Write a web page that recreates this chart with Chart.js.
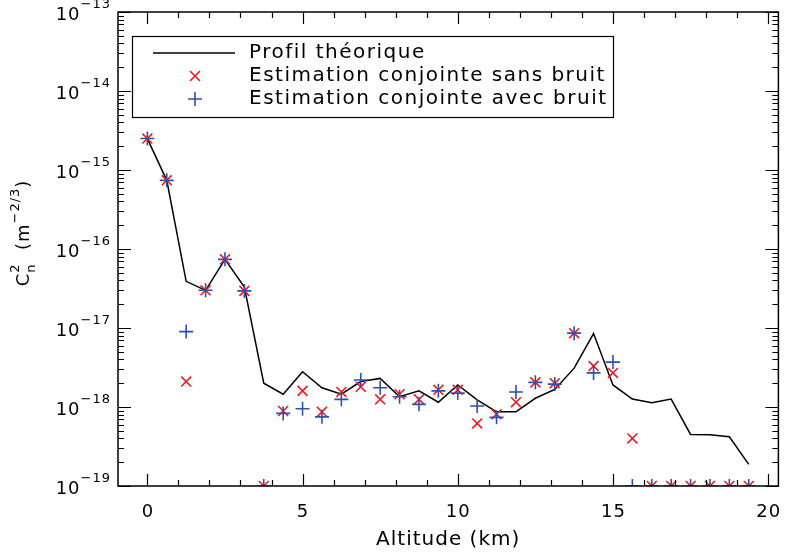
<!DOCTYPE html>
<html lang="fr">
<head>
    <meta charset="UTF-8">
    <title>Profil Cn2</title>
    <script src="https://cdn.jsdelivr.net/npm/chart.js"></script>
    <style>
        body { margin: 0; background: #fff; }
        #wrap { width: 787px; height: 555px; }
    </style>
</head>
<body>
    <div id="wrap"><canvas id="cn2Chart" width="787" height="555"></canvas></div>

    <script>
        // altitudes (km)
        const altitude = [0, 0.625, 1.25, 1.875, 2.5, 3.125, 3.75, 4.375, 5, 5.625, 6.25, 6.875,
            7.5, 8.125, 8.75, 9.375, 10, 10.625, 11.25, 11.875, 12.5, 13.125, 13.75, 14.375,
            15, 15.625, 16.25, 16.875, 17.5, 18.125, 18.75, 19.375];

        // Cn2 values (m^-2/3)
        const profilTheorique = [2.5e-15, 7.4e-16, 3.9e-17, 3.0e-17, 7.4e-17, 3.3e-17, 2.0e-18, 1.45e-18,
            2.8e-18, 1.75e-18, 1.45e-18, 2.1e-18, 2.3e-18, 1.35e-18, 1.6e-18, 1.15e-18,
            1.9e-18, 1.23e-18, 8.7e-19, 8.7e-19, 1.29e-18, 1.67e-18, 3.1e-18, 8.5e-18,
            1.9e-18, 1.26e-18, 1.13e-18, 1.26e-18, 4.5e-19, 4.45e-19, 4.2e-19, 1.88e-19];

        const sansBruit = [2.5e-15, 7.4e-16, 2.1e-18, 3.0e-17, 7.4e-17, 2.95e-17, 1e-19, 8.9e-19,
            1.6e-18, 8.7e-19, 1.55e-18, 1.8e-18, 1.25e-18, 1.45e-18, 1.25e-18, 1.65e-18,
            1.65e-18, 6.2e-19, 8.1e-19, 1.15e-18, 2.05e-18, 2.0e-18, 8.6e-18, 3.3e-18,
            2.7e-18, 4.0e-19, 1e-19, 1e-19, 1e-19, 1e-19, 1e-19, 1e-19];

        const avecBruit = [2.5e-15, 7.4e-16, 9.0e-18, 3.0e-17, 7.4e-17, 2.95e-17, 1e-19, 8.3e-19,
            9.5e-19, 7.5e-19, 1.25e-18, 2.2e-18, 1.75e-18, 1.35e-18, 1.08e-18, 1.6e-18,
            1.5e-18, 1.03e-18, 7.4e-19, 1.55e-18, 2.05e-18, 1.95e-18, 8.6e-18, 2.7e-18,
            3.7e-18, 1e-19, 1e-19, 1e-19, 1e-19, 1e-19, 1e-19, 1e-19];

        const xTickValues = [0, 5, 10, 15, 20];
        const yDecades = [-19, -18, -17, -16, -15, -14, -13];

        const FONT = 'DejaVu Sans';
        const RED = 'rgb(245,25,30)';
        const BLUE = 'rgb(45,80,170)';

        function toPoints(values) {
            return altitude.map((a, i) => ({ x: a, y: values[i] }));
        }

        // wider letter spacing, closer to the IDL vector font
        const spacingPlugin = {
            id: 'spacing',
            beforeDraw(chart) { chart.ctx.letterSpacing = '1px'; }
        };

        // frame, inward ticks on all four sides (IDL style) and tick labels
        const framePlugin = {
            id: 'frame',
            afterDraw(chart) {
                const ctx = chart.ctx;
                const a = chart.chartArea;
                const xs = chart.scales.x, ys = chart.scales.y;
                ctx.save();
                ctx.strokeStyle = '#000';
                ctx.lineWidth = 1.5;
                ctx.strokeRect(a.left, a.top, a.right - a.left, a.bottom - a.top);
                ctx.lineWidth = 1.2;
                ctx.beginPath();
                for (let v = Math.ceil(xs.min); v <= xs.max; v++) {
                    const px = Math.round(xs.getPixelForValue(v)) + 0.5;
                    const len = v % 5 === 0 ? 12 : 6;
                    ctx.moveTo(px, a.bottom); ctx.lineTo(px, a.bottom - len);
                    ctx.moveTo(px, a.top); ctx.lineTo(px, a.top + len);
                }
                yDecades.forEach(e => {
                    for (let m = 1; m <= 9; m++) {
                        const val = m * Math.pow(10, e);
                        if (val < ys.min * 0.999 || val > ys.max * 1.001) continue;
                        const py = Math.round(ys.getPixelForValue(val)) + 0.5;
                        const len = m === 1 ? 13 : 6;
                        ctx.moveTo(a.left, py); ctx.lineTo(a.left + len, py);
                        ctx.moveTo(a.right, py); ctx.lineTo(a.right - len, py);
                    }
                });
                ctx.stroke();

                ctx.fillStyle = '#000';
                ctx.letterSpacing = '1px';

                // x tick labels
                ctx.font = '18px ' + FONT;
                ctx.textAlign = 'center';
                ctx.textBaseline = 'middle';
                xTickValues.forEach(v => {
                    ctx.fillText(String(v), xs.getPixelForValue(v) + 0.5, a.bottom + 26);
                });

                // y tick labels 10^e
                yDecades.forEach(e => {
                    const py = ys.getPixelForValue(Math.pow(10, e));
                    const sup = '\u2212' + Math.abs(e);
                    ctx.font = '13px ' + FONT;
                    const wSup = ctx.measureText(sup).width;
                    const right = a.left - 7;
                    ctx.textAlign = 'left';
                    ctx.fillText(sup, right - wSup, py - 7);
                    ctx.font = '18px ' + FONT;
                    ctx.textAlign = 'right';
                    ctx.fillText('10', right - wSup, py + 3);
                });

                // y axis title: C_n^2 (m^-2/3)
                ctx.translate(22, 233);
                ctx.rotate(-Math.PI / 2);
                const parts = [
                    { t: 'C', f: 18, dy: 0 },
                    { t: '2', f: 13, dy: -8, stack: 'n' },
                    { t: '  (m', f: 18, dy: 0 },
                    { t: '\u22122/3', f: 13, dy: -8 },
                    { t: ')', f: 18, dy: 0 }
                ];
                let total = 0;
                parts.forEach(p => { ctx.font = p.f + 'px ' + FONT; p.w = ctx.measureText(p.t).width; total += p.w; });
                let cx = -total / 2;
                ctx.textAlign = 'left';
                parts.forEach(p => {
                    ctx.font = p.f + 'px ' + FONT;
                    ctx.fillText(p.t, cx, p.dy + 2);
                    if (p.stack) ctx.fillText(p.stack, cx, 10);
                    cx += p.w;
                });
                ctx.restore();
            }
        };

        // boxed legend in the upper left of the plot
        const legendPlugin = {
            id: 'boxLegend',
            afterDraw(chart) {
                const ctx = chart.ctx;
                const a = chart.chartArea;
                const bx = a.left + 14, by = a.top + 24, bw = 481, bh = 81;
                ctx.save();
                ctx.fillStyle = '#fff';
                ctx.fillRect(bx, by, bw, bh);
                ctx.strokeStyle = '#000';
                ctx.lineWidth = 1.2;
                ctx.strokeRect(bx + 0.5, by + 0.5, bw, bh);
                chart.data.datasets.forEach((ds, i) => {
                    const cy = by + 17 + i * 23;
                    ctx.strokeStyle = ds.borderColor;
                    ctx.lineWidth = ds.showLine ? 1.5 : 1.6;
                    ctx.beginPath();
                    if (ds.showLine) {
                        ctx.moveTo(bx + 21, cy); ctx.lineTo(bx + 103, cy);
                    } else if (ds.pointStyle === 'crossRot') {
                        const r = 5;
                        ctx.moveTo(bx + 63 - r, cy - r); ctx.lineTo(bx + 63 + r, cy + r);
                        ctx.moveTo(bx + 63 - r, cy + r); ctx.lineTo(bx + 63 + r, cy - r);
                    } else {
                        const r = 7;
                        ctx.moveTo(bx + 63 - r, cy); ctx.lineTo(bx + 63 + r, cy);
                        ctx.moveTo(bx + 63, cy - r); ctx.lineTo(bx + 63, cy + r);
                    }
                    ctx.stroke();
                    ctx.fillStyle = '#000';
                    ctx.font = '20px ' + FONT;
                    ctx.letterSpacing = '1.5px';
                    ctx.textAlign = 'left';
                    ctx.textBaseline = 'middle';
                    ctx.fillText(ds.label, bx + 117, cy);
                });
                ctx.restore();
            }
        };

        new Chart(document.getElementById('cn2Chart'), {
            type: 'scatter',
            data: {
                datasets: [{
                    label: 'Profil théorique',
                    data: toPoints(profilTheorique),
                    showLine: true,
                    borderColor: '#000',
                    borderWidth: 1.5,
                    pointRadius: 0,
                    tension: 0,
                    order: 3
                }, {
                    label: 'Estimation conjointe sans bruit',
                    data: toPoints(sansBruit),
                    showLine: false,
                    pointStyle: 'crossRot',
                    pointRadius: 7,
                    borderColor: RED,
                    backgroundColor: RED,
                    pointBorderWidth: 1.6,
                    clip: 0,
                    order: 2
                }, {
                    label: 'Estimation conjointe avec bruit',
                    data: toPoints(avecBruit),
                    showLine: false,
                    pointStyle: 'cross',
                    pointRadius: 7,
                    borderColor: BLUE,
                    backgroundColor: BLUE,
                    pointBorderWidth: 1.6,
                    clip: 0,
                    order: 1
                }]
            },
            options: {
                responsive: false,
                animation: false,
                layout: { padding: { top: 12, right: -2, left: 0, bottom: 0 } },
                plugins: { legend: { display: false }, tooltip: { enabled: false } },
                scales: {
                    x: {
                        type: 'linear',
                        min: -0.946,
                        max: 20.33,
                        grid: { display: false, drawTicks: false },
                        border: { display: false },
                        afterBuildTicks: s => { s.ticks = xTickValues.map(v => ({ value: v })); },
                        afterFit: s => { s.height = 69; },
                        ticks: { display: false },
                        title: { display: true, text: 'Altitude (km)', color: '#000', font: { family: FONT, size: 20 }, padding: { top: 0, bottom: 3 } }
                    },
                    y: {
                        type: 'logarithmic',
                        min: 1e-19,
                        max: 1e-13,
                        grid: { display: false },
                        border: { display: false },
                        ticks: { display: false },
                        afterFit: s => { s.width = 118; }
                    }
                }
            },
            plugins: [spacingPlugin, framePlugin, legendPlugin]
        });
    </script>
</body>
</html>
